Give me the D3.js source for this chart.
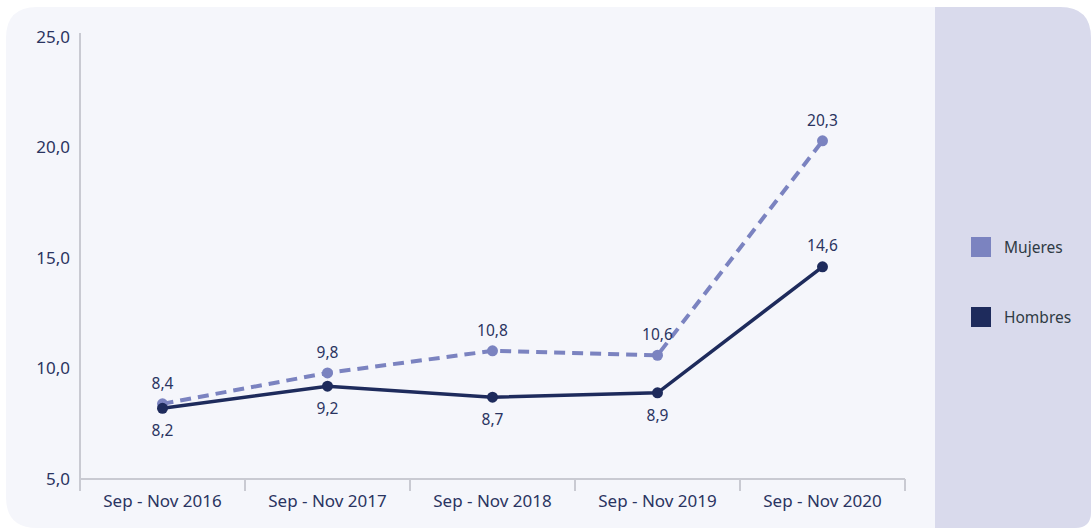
<!DOCTYPE html>
<html>
<head>
<meta charset="utf-8">
<script src="https://cdn.jsdelivr.net/npm/d3@7"></script>
<style>
  body { margin: 0; background: #ffffff; }
  svg { display: block; font-family: "Noto Sans", sans-serif; }
</style>
</head>
<body>
<svg id="chart" width="1091" height="529"></svg>
<script>
// periods on the x axis
let periods = ['Sep - Nov 2016', 'Sep - Nov 2017', 'Sep - Nov 2018', 'Sep - Nov 2019', 'Sep - Nov 2020'];
let mujeres = [8.4, 9.8, 10.8, 10.6, 20.3];
let hombres = [8.2, 9.2, 8.7, 8.9, 14.6];
let yTicks = [5, 10, 15, 20, 25];
let seriesNames = ['Mujeres', 'Hombres'];

let svg = d3.select('#chart');
let fmt = function(v){ return d3.format('.1f')(v).replace('.', ','); };
let textColor = '#2a3461';

// card background
svg.append('path')
    .attr('d', 'M6,38 Q6,7 37,7 L1060,7 Q1091,7 1091,38 L1091,512 Q1091,528 1075,528 L37,528 Q6,528 6,497 Z')
    .attr('fill', '#f5f6fb');
// legend panel
svg.append('path')
    .attr('d', 'M935,7 L1060,7 Q1091,7 1091,38 L1091,512 Q1091,528 1075,528 L935,528 Z')
    .attr('fill', '#d9daec');

let x = d3.scaleBand()
    .domain(periods)
    .range([80, 905]);
let y = d3.scaleLinear()
    .domain([5, 25])
    .range([479, 37]);

// y axis
let yAxis = svg.append('g')
    .attr('transform', 'translate(80,0)')
    .call(d3.axisLeft(y).tickValues(yTicks).tickFormat(fmt).tickSize(0).tickPadding(10))
    .attr('font-family', null)
    .attr('font-size', null);
yAxis.select('.domain').attr('stroke', '#c9cad2').attr('stroke-width', 2).attr('d', 'M0,33V479');
yAxis.selectAll('text').attr('fill', textColor).attr('font-size', 17);

// x axis
let xAxis = svg.append('g')
    .attr('transform', 'translate(0,479)')
    .call(d3.axisBottom(x).tickSize(0).tickPadding(16))
    .attr('font-family', null)
    .attr('font-size', null);
xAxis.select('.domain').attr('stroke', '#c9cad2').attr('stroke-width', 2).attr('d', 'M80,0H905');
xAxis.selectAll('text').attr('fill', textColor).attr('font-size', 17);
// band separators
svg.append('g').selectAll('line')
    .data(periods.concat(['end']))
    .join('line')
        .attr('x1', function(d, i){ return 80 + i * x.step(); })
        .attr('x2', function(d, i){ return 80 + i * x.step(); })
        .attr('y1', 479)
        .attr('y2', 491)
        .attr('stroke', '#c9cad2')
        .attr('stroke-width', 2);

let cx = function(d, i){ return x(periods[i]) + x.bandwidth() / 2; };
let line = d3.line()
    .x(cx)
    .y(function(d){ return y(d); });

// Mujeres - dashed
svg.append('path')
    .datum(mujeres)
    .attr('d', line)
    .attr('fill', 'none')
    .attr('stroke', '#7b83c0')
    .attr('stroke-width', 4)
    .attr('stroke-dasharray', '11,7');
// Hombres - solid
svg.append('path')
    .datum(hombres)
    .attr('d', line)
    .attr('fill', 'none')
    .attr('stroke', '#1e2b5c')
    .attr('stroke-width', 3.5);

svg.append('g').selectAll('circle')
    .data(mujeres)
    .join('circle')
        .attr('cx', cx)
        .attr('cy', function(d){ return y(d); })
        .attr('r', 5.5)
        .attr('fill', '#7b83c0');
svg.append('g').selectAll('circle')
    .data(hombres)
    .join('circle')
        .attr('cx', cx)
        .attr('cy', function(d){ return y(d); })
        .attr('r', 5.5)
        .attr('fill', '#1e2b5c');

// data labels: Mujeres above; Hombres below except the last one
svg.append('g').selectAll('text')
    .data(mujeres)
    .join('text')
        .attr('x', cx)
        .attr('y', function(d){ return y(d) - 15; })
        .attr('text-anchor', 'middle')
        .attr('fill', textColor)
        .attr('font-size', 15.5)
        .text(fmt);
svg.append('g').selectAll('text')
    .data(hombres)
    .join('text')
        .attr('x', cx)
        .attr('y', function(d, i){ return i === hombres.length - 1 ? y(d) - 16 : y(d) + 28; })
        .attr('text-anchor', 'middle')
        .attr('fill', textColor)
        .attr('font-size', 15.5)
        .text(fmt);

// legend
let legendColors = ['#7b83c0', '#1e2b5c'];
let legend = svg.append('g').selectAll('g')
    .data(seriesNames)
    .join('g')
        .attr('transform', function(d, i){ return 'translate(971,' + (237 + i * 70) + ')'; });
legend.append('rect')
    .attr('width', 20)
    .attr('height', 20)
    .attr('fill', function(d, i){ return legendColors[i]; });
legend.append('text')
    .attr('x', 33)
    .attr('y', 16)
    .attr('fill', '#2f3a44')
    .attr('font-size', 15.5)
    .text(function(d){ return d; });
</script>
</body>
</html>
